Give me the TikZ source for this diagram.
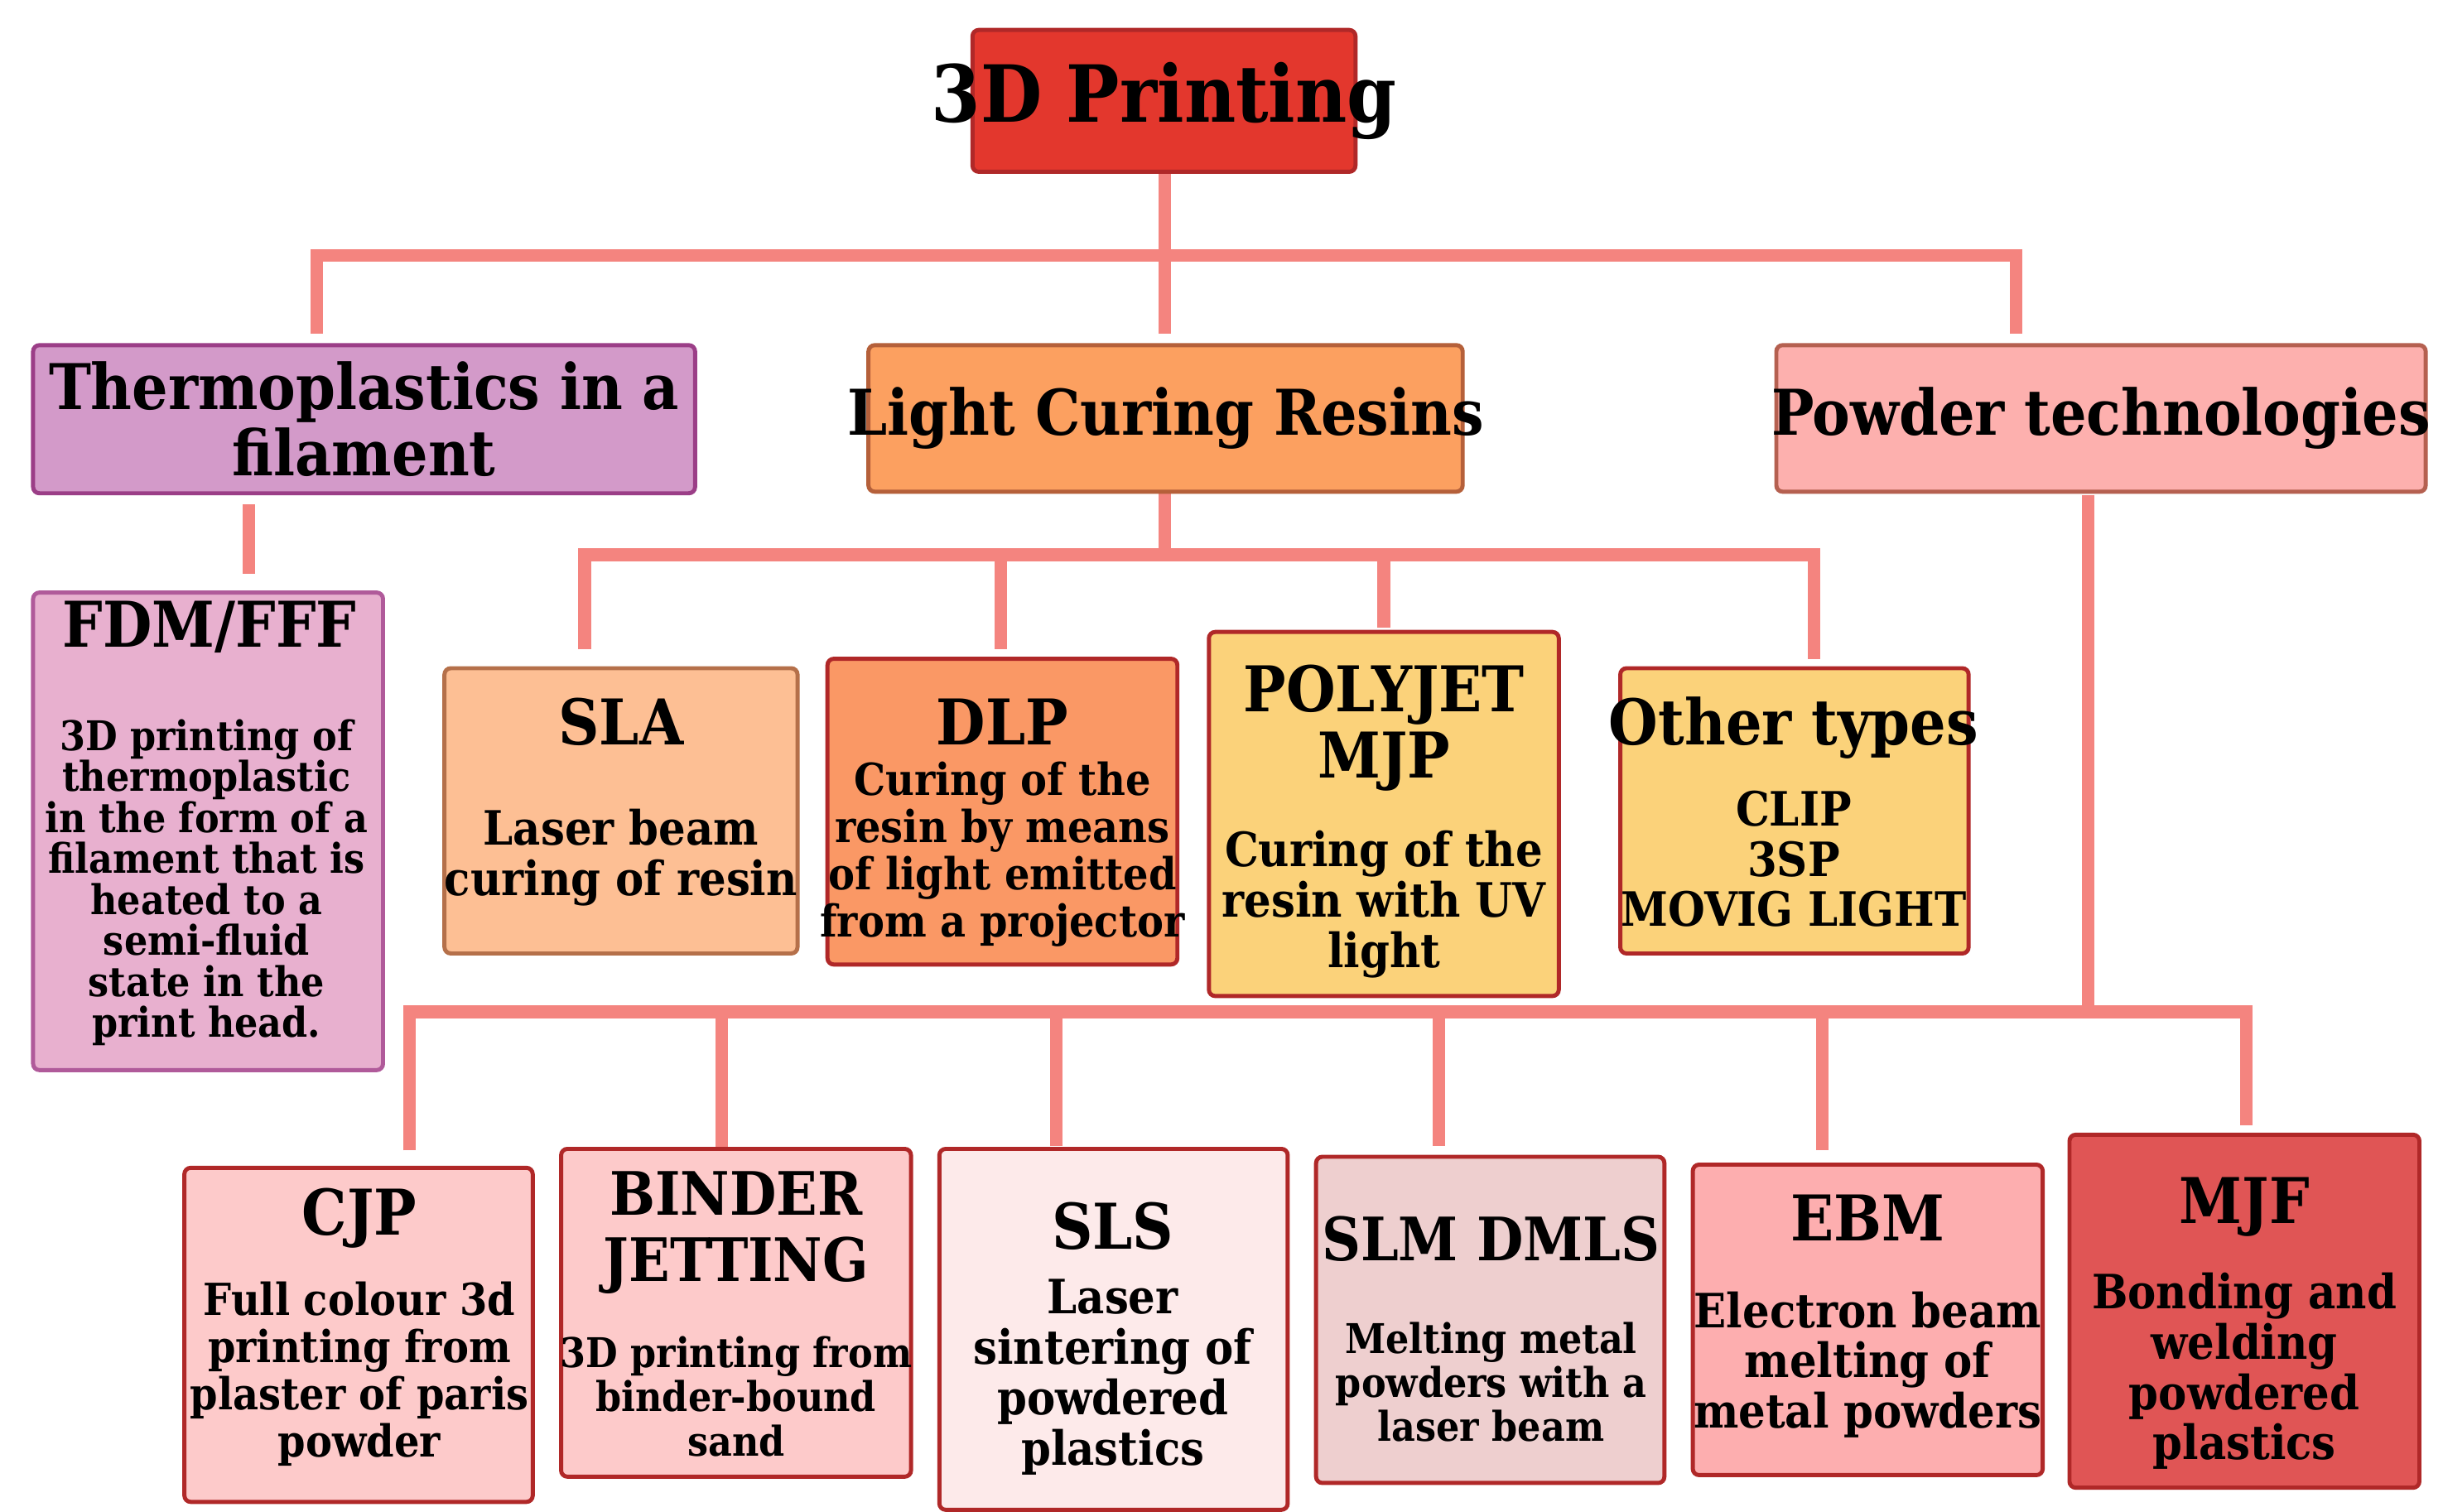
\documentclass[tikz,border=0pt]{standalone}
\usepackage{fontspec}
\setmainfont{DejaVu Serif Condensed}
\begin{document}
\definecolor{lnc}{HTML}{F4847F}
\definecolor{dr}{HTML}{B02828}
\definecolor{c1}{HTML}{E3372D}
\definecolor{b2}{HTML}{9B3E87}\definecolor{c2}{HTML}{D39AC9}
\definecolor{b3}{HTML}{B5603A}\definecolor{c3}{HTML}{FCA060}
\definecolor{b4}{HTML}{B56050}\definecolor{c4}{HTML}{FDB0AE}
\definecolor{b5}{HTML}{B05A9A}\definecolor{c5}{HTML}{E8B0CF}
\definecolor{b6}{HTML}{B5704A}\definecolor{c6}{HTML}{FDBF94}
\definecolor{c7}{HTML}{FA9865}
\definecolor{c8}{HTML}{FBD27A}
\definecolor{c9}{HTML}{FDCACA}
\definecolor{c10}{HTML}{FDEAEA}
\definecolor{c11}{HTML}{EECFCF}
\definecolor{c12}{HTML}{FDAEAF}
\definecolor{c13}{HTML}{E05555}
\begin{tikzpicture}[x=0.5pt,y=-0.5pt,
  box/.style={draw=#1,line width=1.3pt,rounded corners=2pt,inner sep=0pt,align=center,font=\bfseries},
  ln/.style={draw=lnc,line width=4pt},
  H/.style={font=\fontsize{20}{22}\selectfont\bfseries}]
\useasboundingbox (0,0) rectangle (1550,959);
\newcommand\bx[7]{\node[box=#5,fill=#6,minimum width={(#3-#1)*0.5pt},minimum height={(#4-#2)*0.5pt}] (#7) at ({(#1+#3)/2},{(#2+#4)/2}) {};}
% connectors
\coordinate (t0) at (739,109); \coordinate (t1) at (739,212);
\coordinate (hl) at (201,162); \coordinate (hr) at (1279,162);
\draw[ln] (t0)--(t1); \draw[ln] (201,212)--(hl)--(hr)--(1279,212);
\coordinate (f0) at (158,320); \coordinate (f1) at (158,364); \draw[ln] (f0)--(f1);
\coordinate (l0) at (739,312); \coordinate (l1) at (739,352);
\draw[ln] (l0)--(l1); \draw[ln] (371,412)--(371,352)--(1151,352)--(1151,418);
\draw[ln] (635,352)--(635,412); \draw[ln] (878,352)--(878,398);
\coordinate (p0) at (1325,314); \coordinate (p1) at (1325,642);
\draw[ln] (p0)--(p1);
\draw[ln] (260,730)--(260,642)--(1425,642)--(1425,714);
\draw[ln] (458,642)--(458,730); \draw[ln] (670,642)--(670,727);
\draw[ln] (913,642)--(913,727); \draw[ln] (1156,642)--(1156,730);
% boxes
\bx{617}{19}{860}{109}{dr}{c1}{top}
\node[font=\fontsize{25}{28}\selectfont\bfseries] at (top) {3D Printing};
\bx{21}{219}{441}{313}{b2}{c2}{thermo}
\node[align=center,font=\fontsize{20}{21}\selectfont\bfseries] at (thermo) {Thermoplastics in a\\filament};
\bx{551}{219}{928}{312}{b3}{c3}{light}
\node[font=\fontsize{20}{22}\selectfont\bfseries] at (light) {Light Curing Resins};
\bx{1127}{219}{1539}{312}{b4}{c4}{powder}
\node[font=\fontsize{20}{22}\selectfont\bfseries] at (powder) {Powder technologies};
\bx{21}{376}{243}{679}{b5}{c5}{fdm}
\node[H] at (133,398) {FDM/FFF};
\node[align=center,font=\fontsize{13}{13}\selectfont\bfseries] at (131,560) {3D printing of\\thermoplastic\\in the form of a\\filament that is\\heated to a\\semi-fluid\\state in the\\print head.};
\bx{282}{424}{506}{605}{b6}{c6}{sla}
\node[H] at (394,458) {SLA};
\node[align=center,font=\fontsize{15}{16}\selectfont\bfseries] at (394,544) {Laser beam\\curing of resin};
\bx{525}{418}{747}{612}{dr}{c7}{dlp}
\node[H] at (636,458) {DLP};
\node[align=center,font=\fontsize{14}{15}\selectfont\bfseries] at (636,542) {Curing of the\\resin by means\\of light emitted\\from a projector};
\bx{767}{401}{989}{632}{dr}{c8}{poly}
\node[align=center,font=\fontsize{20}{21}\selectfont\bfseries] at (878,462) {POLYJET\\MJP};
\node[align=center,font=\fontsize{15}{16}\selectfont\bfseries] at (878,574) {Curing of the\\resin with UV\\light};
\bx{1028}{424}{1249}{605}{dr}{c8}{other}
\node[H] at (1138,462) {Other types};
\node[align=center,font=\fontsize{15}{16}\selectfont\bfseries] at (1138,545) {CLIP\\3SP\\MOVIG LIGHT};
\bx{117}{741}{338}{953}{dr}{c9}{cjp}
\node[H] at (228,773) {CJP};
\node[align=center,font=\fontsize{14}{15}\selectfont\bfseries] at (228,872) {Full colour 3d\\printing from\\plaster of paris\\powder};
\bx{356}{729}{578}{937}{dr}{c9}{binder}
\node[align=center,font=\fontsize{19}{21}\selectfont\bfseries] at (467,782) {BINDER\\JETTING};
\node[align=center,font=\fontsize{13}{14}\selectfont\bfseries] at (467,886) {3D printing from\\binder-bound\\sand};
\bx{596}{729}{817}{958}{dr}{c10}{sls}
\node[H] at (706,778) {SLS};
\node[align=center,font=\fontsize{15}{16}\selectfont\bfseries] at (706,874) {Laser\\sintering of\\powdered\\plastics};
\bx{835}{734}{1056}{941}{dr}{c11}{slm}
\node[font=\fontsize{19}{21}\selectfont\bfseries] at (946,786) {SLM DMLS};
\node[align=center,font=\fontsize{13}{14}\selectfont\bfseries] at (946,877) {Melting metal\\powders with a\\laser beam};
\bx{1074}{739}{1296}{936}{dr}{c12}{ebm}
\node[H] at (1185,773) {EBM};
\node[align=center,font=\fontsize{15}{16}\selectfont\bfseries] at (1185,866) {Electron beam\\melting of\\metal powders};
\bx{1313}{720}{1535}{944}{dr}{c13}{mjf}
\node[H] at (1424,766) {MJF};
\node[align=center,font=\fontsize{15}{16}\selectfont\bfseries] at (1424,870) {Bonding and\\welding\\powdered\\plastics};
\end{tikzpicture}
\end{document}
